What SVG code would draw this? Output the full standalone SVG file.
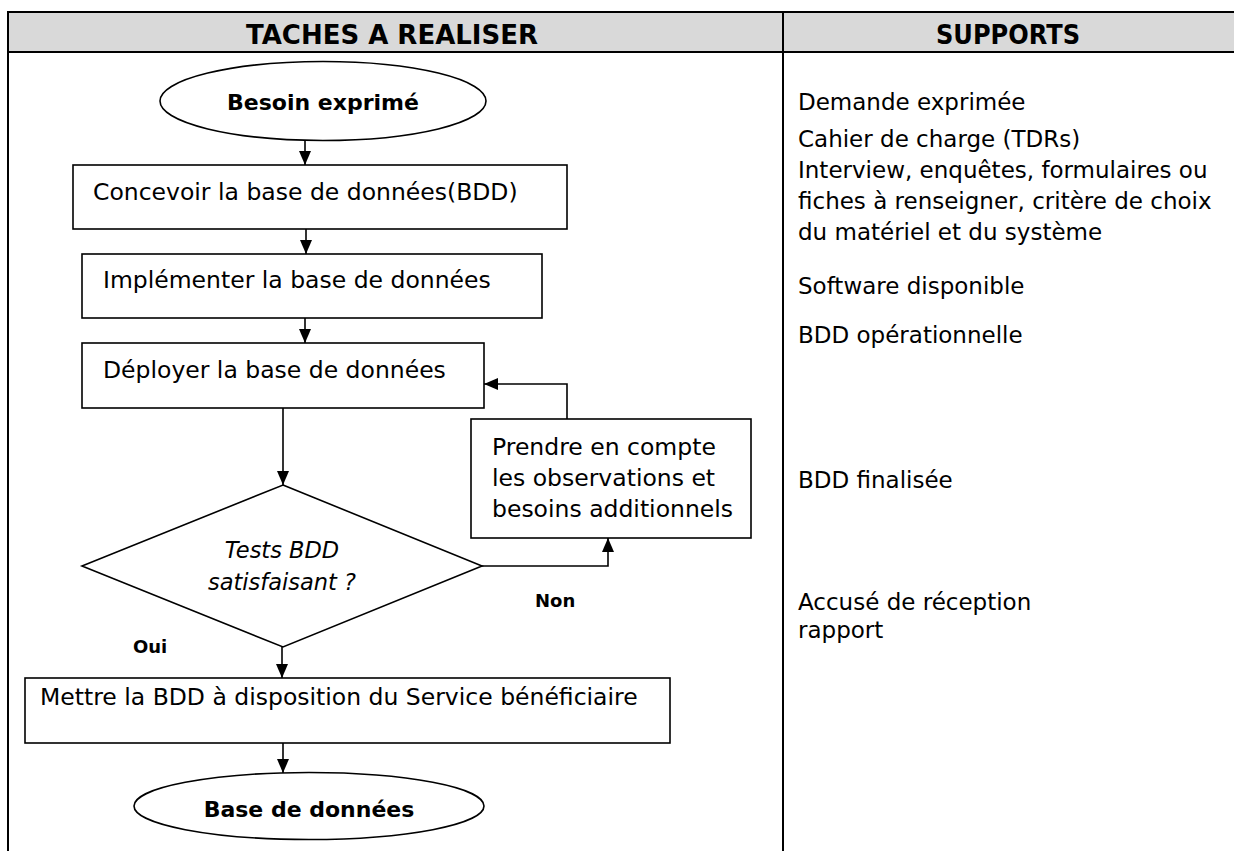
<svg xmlns="http://www.w3.org/2000/svg" width="1234" height="851" viewBox="0 0 1234 851">
  <style>
    .grid { stroke: #000; stroke-width: 2; fill: none; }
    .shape { stroke: #000; stroke-width: 1.6; fill: #fff; }
    .link { stroke: #000; stroke-width: 1.6; fill: none; }
    .head { font-family: "DejaVu Sans", "Liberation Sans", sans-serif; font-weight: bold; font-size: 26px; fill: #000; text-anchor: middle; }
    .txt { font-family: "DejaVu Sans", "Liberation Sans", sans-serif; font-size: 23.5px; fill: #000; }
    .sup { font-family: "DejaVu Sans", "Liberation Sans", sans-serif; font-size: 23px; fill: #000; }
    .bold { font-family: "DejaVu Sans", "Liberation Sans", sans-serif; font-weight: bold; font-size: 22px; fill: #000; text-anchor: middle; }
    .lab { font-family: "DejaVu Sans", "Liberation Sans", sans-serif; font-weight: bold; font-size: 18px; fill: #000; }
    .ital { font-family: "DejaVu Sans", "Liberation Sans", sans-serif; font-style: italic; font-size: 22.5px; fill: #000; text-anchor: middle; }
  </style>
  <defs>
    <marker id="arrow" viewBox="0 0 14 12" refX="14" refY="6" markerWidth="14" markerHeight="12" markerUnits="userSpaceOnUse" orient="auto">
      <path d="M0,0 L14,6 L0,12 z" fill="#000"/>
    </marker>
  </defs>

  <rect width="1234" height="851" fill="#fff"/>

  <!-- table frame -->
  <g id="table">
    <rect x="8" y="12" width="1240" height="40" fill="#d9d9d9"/>
    <line class="grid" x1="8" y1="12" x2="1240" y2="12"/>
    <line class="grid" x1="8" y1="52" x2="1240" y2="52"/>
    <line class="grid" x1="8" y1="11" x2="8" y2="851"/>
    <line class="grid" x1="783" y1="11" x2="783" y2="851"/>
    <text class="head" x="392" y="44">TACHES A REALISER</text>
    <text class="head" x="1008" y="44" textLength="144" lengthAdjust="spacingAndGlyphs">SUPPORTS</text>
  </g>

  <!-- connectors -->
  <g id="connectors">
    <line class="link" x1="305" y1="140" x2="305" y2="165" marker-end="url(#arrow)"/>
    <line class="link" x1="306" y1="229" x2="306" y2="254" marker-end="url(#arrow)"/>
    <line class="link" x1="305" y1="318" x2="305" y2="343" marker-end="url(#arrow)"/>
    <line class="link" x1="283" y1="408" x2="283" y2="485" marker-end="url(#arrow)"/>
    <polyline class="link" points="482,566 608,566 608,538" marker-end="url(#arrow)"/>
    <polyline class="link" points="567,419 567,384 484,384" marker-end="url(#arrow)"/>
    <line class="link" x1="282" y1="638" x2="282" y2="678" marker-end="url(#arrow)"/>
    <line class="link" x1="283" y1="743" x2="283" y2="773" marker-end="url(#arrow)"/>
  </g>

  <!-- flow nodes -->
  <g id="start">
    <ellipse class="shape" cx="323" cy="101" rx="163" ry="39.5"/>
    <text class="bold" x="323" y="110">Besoin exprimé</text>
  </g>
  <g id="concevoir">
    <rect class="shape" x="73" y="165" width="494" height="64"/>
    <text class="txt" x="93" y="200">Concevoir la base de données(BDD)</text>
  </g>
  <g id="implementer">
    <rect class="shape" x="82" y="254" width="460" height="64"/>
    <text class="txt" x="103" y="288">Implémenter la base de données</text>
  </g>
  <g id="deployer">
    <rect class="shape" x="82" y="343" width="402" height="65"/>
    <text class="txt" x="103" y="378">Déployer la base de données</text>
  </g>
  <g id="test">
    <polygon class="shape" points="283,485 482,566 283,647 82,566"/>
    <text class="ital" x="282" y="558">Tests BDD</text>
    <text class="ital" x="282" y="590">satisfaisant ?</text>
  </g>
  <g id="prendre">
    <rect class="shape" x="471" y="419" width="280" height="119"/>
    <text class="txt" x="492" y="455">Prendre en compte</text>
    <text class="txt" x="492" y="486">les observations et</text>
    <text class="txt" x="492" y="517">besoins additionnels</text>
  </g>
  <g id="labels">
    <text class="lab" x="535" y="607">Non</text>
    <text class="lab" x="133" y="653">Oui</text>
  </g>
  <g id="mettre">
    <rect class="shape" x="25" y="678" width="645" height="65"/>
    <text class="txt" x="40" y="705">Mettre la BDD à disposition du Service bénéficiaire</text>
  </g>
  <g id="end">
    <ellipse class="shape" cx="309" cy="806" rx="175" ry="33.5"/>
    <text class="bold" x="309" y="817">Base de données</text>
  </g>

  <!-- supports column -->
  <g id="supports">
    <text class="sup" x="798" y="110">Demande exprimée</text>
    <text class="sup" x="798" y="147">Cahier de charge (TDRs)</text>
    <text class="sup" x="798" y="178">Interview, enquêtes, formulaires ou</text>
    <text class="sup" x="798" y="209">fiches à renseigner, critère de choix</text>
    <text class="sup" x="798" y="240">du matériel et du système</text>
    <text class="sup" x="798" y="294">Software disponible</text>
    <text class="sup" x="798" y="343">BDD opérationnelle</text>
    <text class="sup" x="798" y="488">BDD finalisée</text>
    <text class="sup" x="798" y="610">Accusé de réception</text>
    <text class="sup" x="798" y="638">rapport</text>
  </g>
</svg>
